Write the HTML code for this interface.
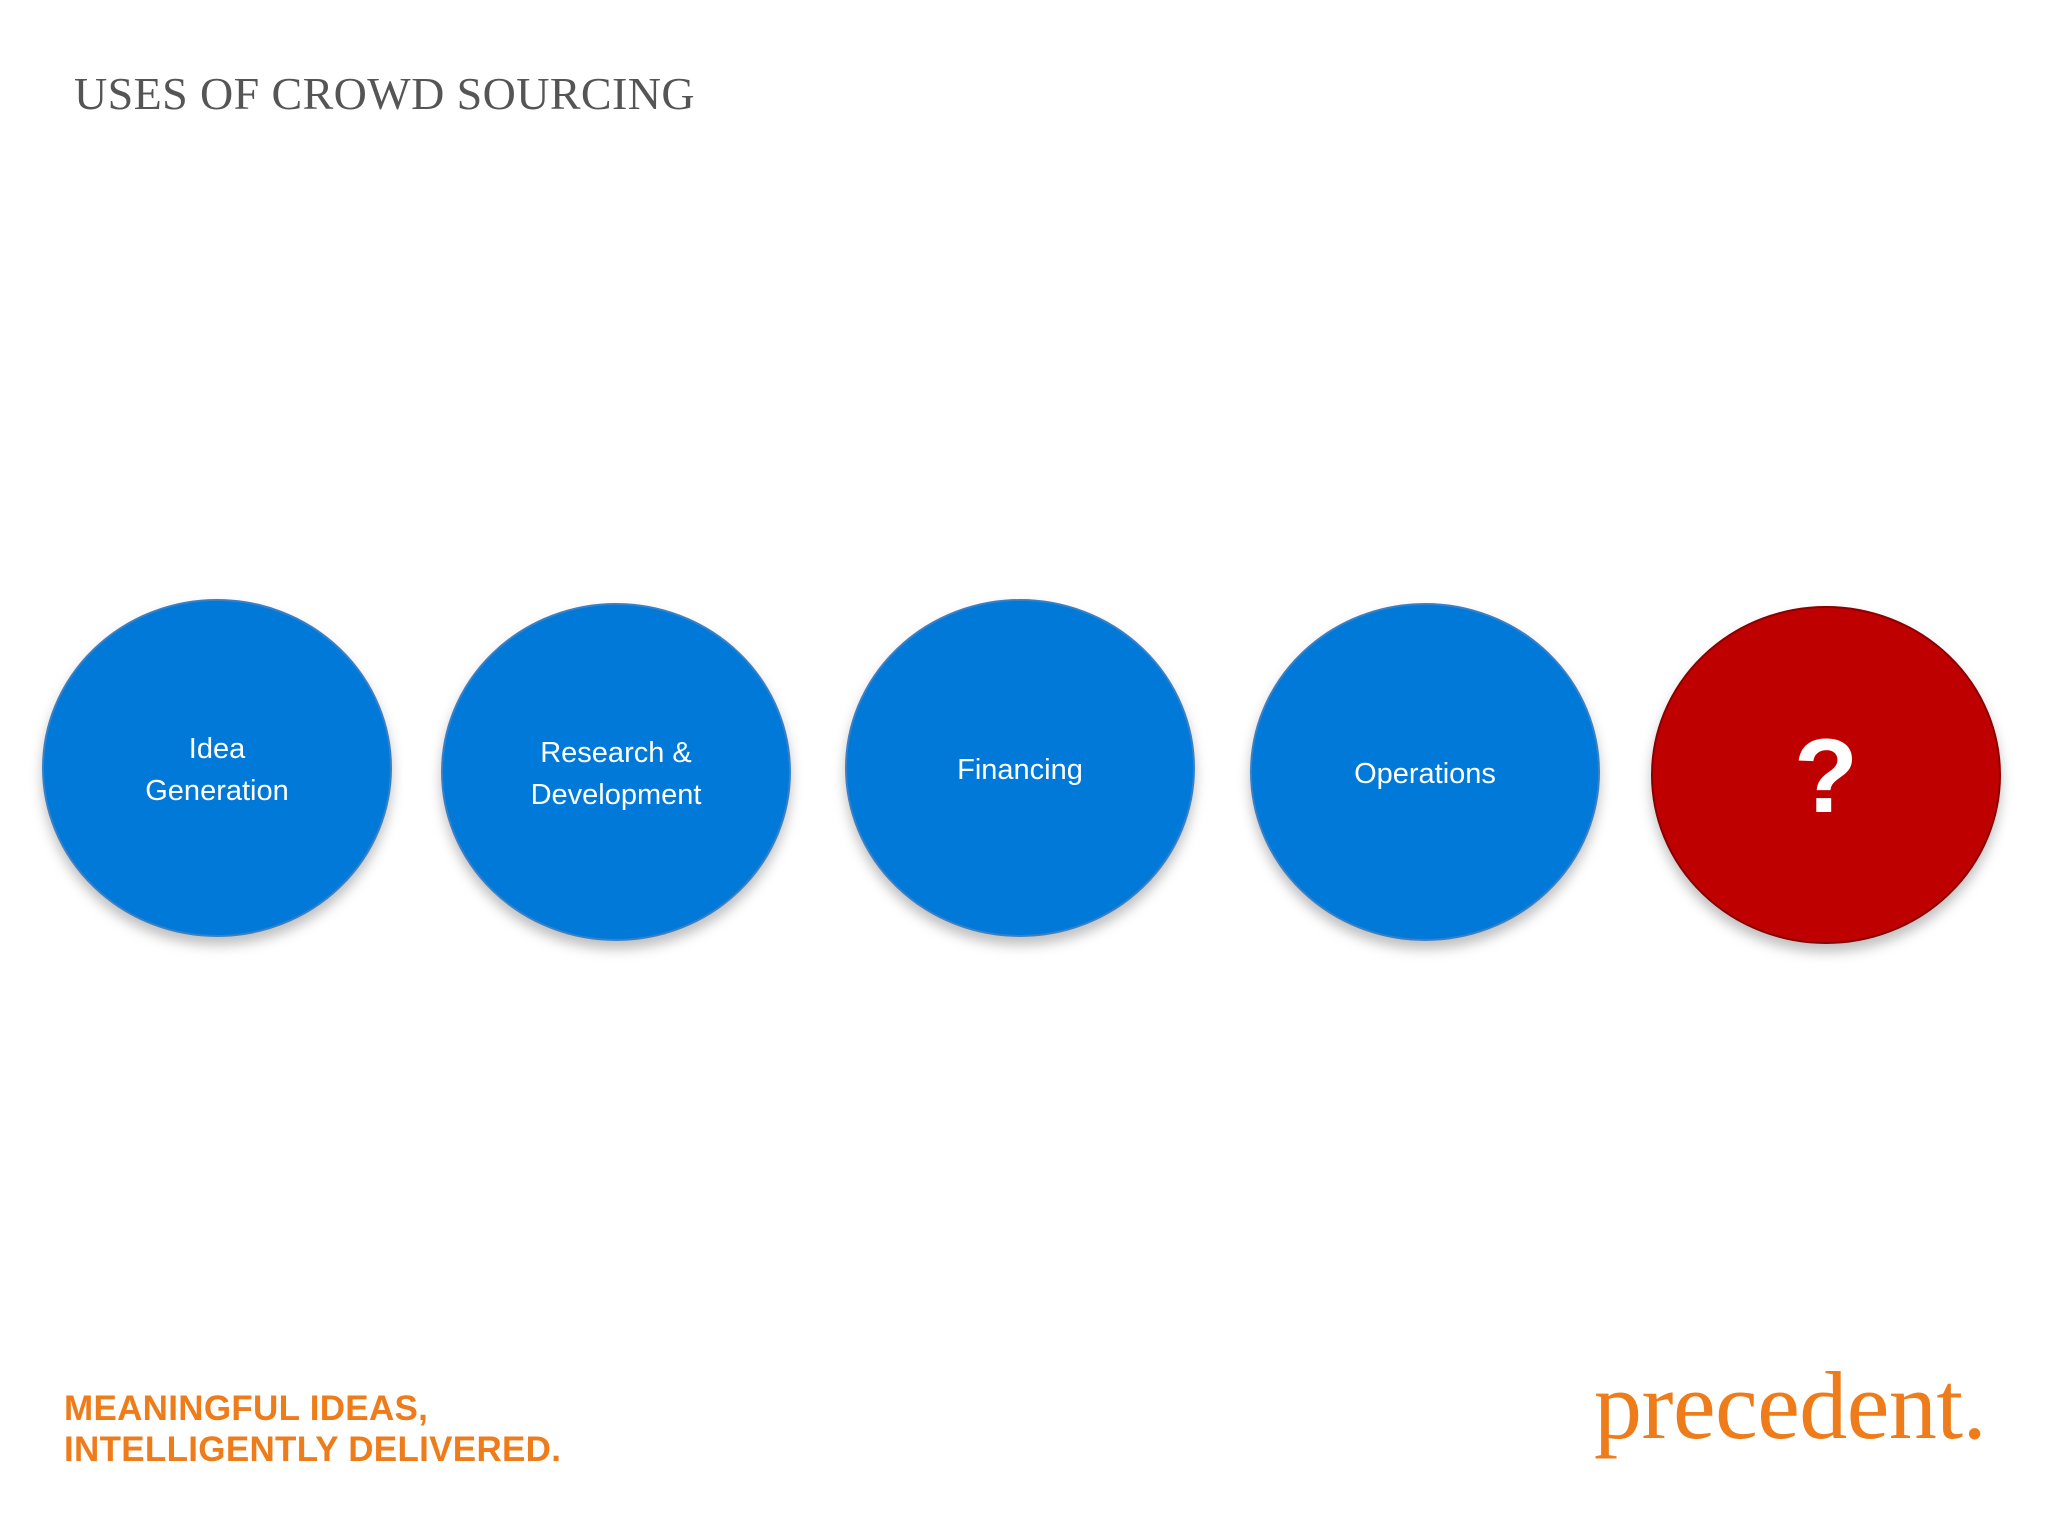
<!DOCTYPE html>
<html><head><meta charset="utf-8"><style>
body{margin:0;width:2048px;height:1536px;background:#fff;position:relative;overflow:hidden;font-family:"Liberation Sans",sans-serif}
.t{position:absolute;white-space:nowrap}
</style></head><body>
<div class="t" style="left:74px;top:67px;font-family:'Liberation Serif',serif;font-size:46px;letter-spacing:0.4px;color:#555">USES OF CROWD SOURCING</div>
<svg width="2048" height="1536" style="position:absolute;left:0;top:0">
<defs><filter id="sh" x="-20%" y="-20%" width="140%" height="150%"><feDropShadow dx="0" dy="8" stdDeviation="6" flood-color="#000" flood-opacity="0.25"/></filter></defs>
<g><ellipse cx="217" cy="768" rx="174" ry="168" fill="#0479D9" stroke="#3b7fc4" stroke-width="2" filter="url(#sh)"/>
<text x="217" y="758" fill="#fff" font-size="29" text-anchor="middle">Idea</text><text x="217" y="800" fill="#fff" font-size="29" text-anchor="middle">Generation</text></g>
<g><ellipse cx="616" cy="772" rx="174" ry="168" fill="#0479D9" stroke="#3b7fc4" stroke-width="2" filter="url(#sh)"/>
<text x="616" y="762" fill="#fff" font-size="29" text-anchor="middle">Research &amp;</text><text x="616" y="804" fill="#fff" font-size="29" text-anchor="middle">Development</text></g>
<g><ellipse cx="1020" cy="768" rx="174" ry="168" fill="#0479D9" stroke="#3b7fc4" stroke-width="2" filter="url(#sh)"/>
<text x="1020" y="779" fill="#fff" font-size="29" text-anchor="middle">Financing</text></g>
<g><ellipse cx="1425" cy="772" rx="174" ry="168" fill="#0479D9" stroke="#3b7fc4" stroke-width="2" filter="url(#sh)"/>
<text x="1425" y="783" fill="#fff" font-size="29" text-anchor="middle">Operations</text></g>
<g><ellipse cx="1826" cy="775" rx="174" ry="168" fill="#BE0000" stroke="#8a0000" stroke-width="2" filter="url(#sh)"/>
<text x="1826" y="812" fill="#fff" font-size="105" font-weight="bold" text-anchor="middle">?</text></g>
</svg>
<div class="t" style="left:64px;top:1388px;font-size:35px;font-weight:bold;color:#EE7C1B;line-height:41px;letter-spacing:0.3px">MEANINGFUL IDEAS,<br>INTELLIGENTLY DELIVERED.</div>
<div class="t" style="left:1594px;top:1350px;font-family:'Liberation Serif',serif;font-size:96px;color:#EE7C1B;letter-spacing:-0.5px">precedent.</div>
</body></html>
